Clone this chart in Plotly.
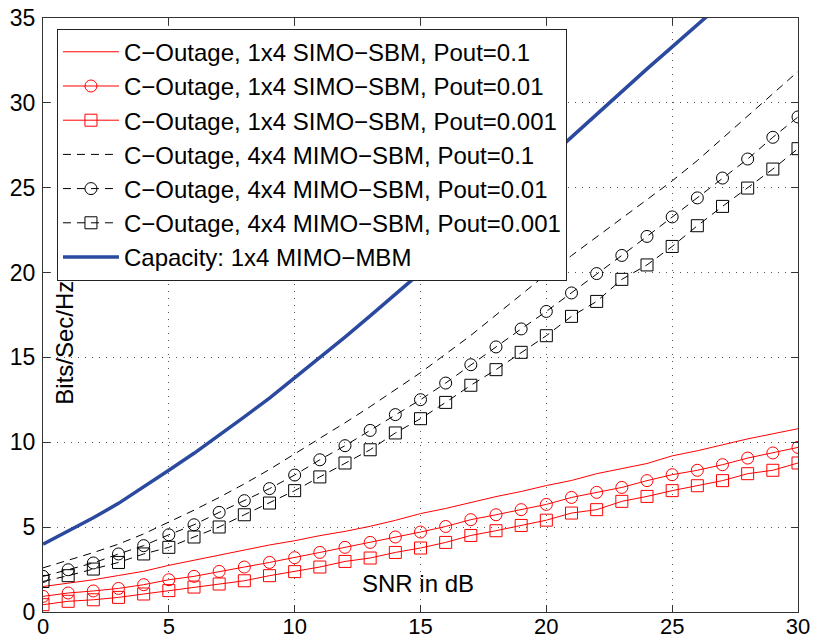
import plotly.graph_objects as go

# SNR axis (dB)
snr = list(range(31))

# 1x4 SIMO-SBM outage capacity
simo_p1 = [1.5, 1.7, 1.9, 2.15, 2.4, 2.75, 3.05, 3.35, 3.65, 3.95, 4.2, 4.5, 4.75, 5.05, 5.4, 5.8,
           6.1, 6.45, 6.8, 7.1, 7.45, 7.75, 8.15, 8.45, 8.75, 9.2, 9.5, 9.85, 10.2, 10.5, 10.8]
simo_p01 = [0.92, 1.12, 1.24, 1.39, 1.61, 1.9, 2.1, 2.39, 2.65, 2.92, 3.2, 3.51, 3.81, 4.1, 4.42, 4.71,
            5.04, 5.44, 5.73, 6.03, 6.34, 6.75, 7.05, 7.34, 7.74, 8.09, 8.35, 8.68, 9.07, 9.37, 9.7]
simo_p001 = [0.43, 0.63, 0.72, 0.86, 1.06, 1.26, 1.47, 1.65, 1.84, 2.14, 2.38, 2.65, 2.98, 3.18, 3.51, 3.77,
             4.1, 4.51, 4.79, 5.1, 5.41, 5.83, 6.03, 6.52, 6.81, 7.15, 7.44, 7.74, 8.15, 8.35, 8.78]

# 4x4 MIMO-SBM outage capacity
mimo_p1 = [2.6, 3.05, 3.5, 4.0, 4.6, 5.3, 6.0, 6.75, 7.55, 8.4, 9.3, 10.2, 11.15, 12.1, 13.1, 14.1,
           15.2, 16.3, 17.5, 18.7, 19.9, 21.0, 22.1, 23.2, 24.3, 25.4, 26.6, 27.9, 29.2, 30.5, 31.85]
mimo_p01 = [2.1, 2.49, 2.89, 3.42, 3.91, 4.55, 5.14, 5.87, 6.56, 7.27, 8.07, 8.97, 9.8, 10.7, 11.63, 12.51,
            13.49, 14.57, 15.62, 16.68, 17.71, 18.8, 19.94, 21.01, 22.13, 23.28, 24.4, 25.57, 26.69, 27.97, 29.17]
mimo_p001 = [1.8, 2.14, 2.53, 2.92, 3.42, 3.81, 4.42, 5.01, 5.73, 6.42, 7.15, 7.96, 8.78, 9.56, 10.55, 11.39,
             12.35, 13.36, 14.28, 15.3, 16.28, 17.42, 18.3, 19.6, 20.45, 21.54, 22.76, 23.9, 24.98, 26.1, 27.3]

# 1x4 MIMO-MBM ergodic capacity
capacity = [4.0, 4.75, 5.55, 6.4, 7.35, 8.35, 9.35, 10.4, 11.5, 12.6, 13.8, 14.95, 16.2, 17.45, 18.7, 20.0,
            21.3, 22.6, 23.95, 25.3, 26.65, 28.0, 29.35, 30.7, 32.0, 33.3, 34.6, 35.9, 37.2, 38.5, 39.8]

labels = [
    "C\u2212Outage, 1x4 SIMO\u2212SBM, Pout=0.1",
    "C\u2212Outage, 1x4 SIMO\u2212SBM, Pout=0.01",
    "C\u2212Outage, 1x4 SIMO\u2212SBM, Pout=0.001",
    "C\u2212Outage, 4x4 MIMO\u2212SBM, Pout=0.1",
    "C\u2212Outage, 4x4 MIMO\u2212SBM, Pout=0.01",
    "C\u2212Outage, 4x4 MIMO\u2212SBM, Pout=0.001",
    "Capacity: 1x4 MIMO\u2212MBM",
]

RED = "#ff0000"
BLACK = "#000000"
BLUE = "#2b4a9f"
DASH = "8px,6px"
FONT = "Liberation Sans, Arial, sans-serif"

fig = go.Figure()

series = [
    (simo_p1, dict(color=RED, width=1), None, "lines"),
    (simo_p01, dict(color=RED, width=1), "circle-open", "lines+markers"),
    (simo_p001, dict(color=RED, width=1), "square-open", "lines+markers"),
    (mimo_p1, dict(color=BLACK, width=1, dash=DASH), None, "lines"),
    (mimo_p01, dict(color=BLACK, width=1, dash=DASH), "circle-open", "lines+markers"),
    (mimo_p001, dict(color=BLACK, width=1, dash=DASH), "square-open", "lines+markers"),
    (capacity, dict(color=BLUE, width=3.5), None, "lines"),
]

for i, (vals, line, symbol, mode) in enumerate(series):
    kw = {}
    if symbol:
        kw["marker"] = dict(symbol=symbol, size=12, color=line["color"],
                            line=dict(width=1, color=line["color"]))
    fig.add_trace(go.Scatter(x=snr, y=vals, mode=mode, name=labels[i], line=line,
                             legendgroup=f"g{i}", **kw))

axis_common = dict(
    showline=True, linecolor="#333333", linewidth=1, mirror="allticks",
    ticks="inside", ticklen=7, tickcolor="#333333",
    showgrid=True, gridcolor="#555555", gridwidth=1, griddash="1px,6px",
    zeroline=False, automargin=False,
)

fig.update_xaxes(range=[0, 30], tick0=0, dtick=5, ticklabelstandoff=-5,
                 tickfont=dict(family=FONT, size=22, color="#000000"), **axis_common)
fig.update_yaxes(range=[0, 35], tick0=0, dtick=5, ticklabelstandoff=2,
                 tickfont=dict(family=FONT, size=23, color="#000000"), **axis_common)

fig.update_layout(
    width=817, height=643,
    margin=dict(l=43, r=19, t=18, b=31),
    paper_bgcolor="white", plot_bgcolor="white",
    font=dict(family=FONT, size=24, color="#000000"),
    legend=dict(
        x=0.0185, y=0.982, xanchor="left", yanchor="top",
        bgcolor="white", bordercolor="#222222", borderwidth=1,
        font=dict(family=FONT, size=24), tracegroupgap=1, itemwidth=56,
        traceorder="normal",
    ),
    showlegend=True,
    annotations=[
        dict(text="Bits/Sec/Hz", xref="paper", yref="paper",
             x=(65 - 43) / 755, y=(612.3 - 343) / 594, textangle=-90,
             xanchor="center", yanchor="middle",
             showarrow=False, font=dict(family=FONT, size=24)),
        dict(text="SNR in dB", xref="paper", yref="paper",
             x=(418 - 43) / 755, y=(612.3 - 584) / 594,
             xanchor="center", yanchor="middle",
             showarrow=False, font=dict(family=FONT, size=24)),
    ],
)

fig.write_html("out.html")
